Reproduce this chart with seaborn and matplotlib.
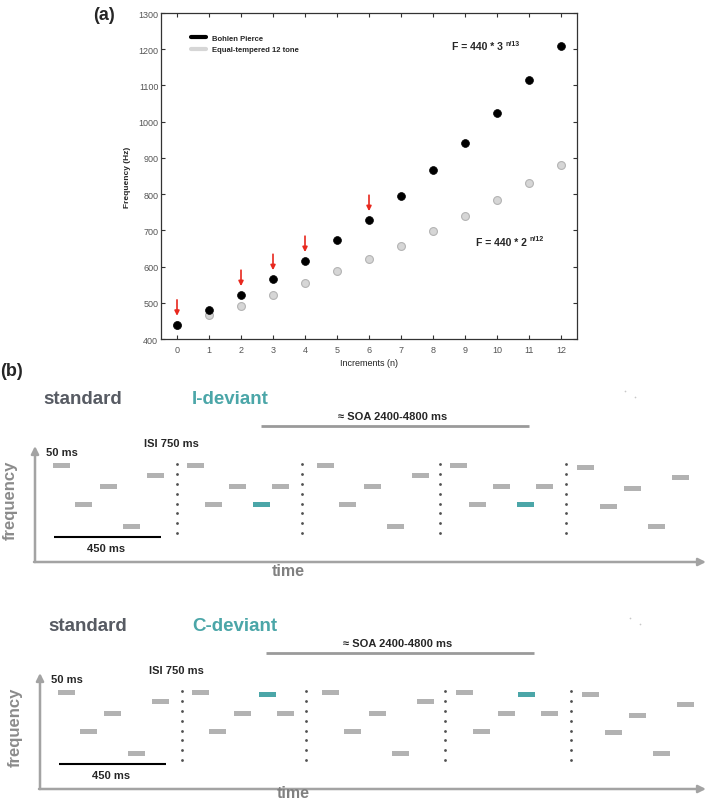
import matplotlib
matplotlib.use("Agg")
import matplotlib.pyplot as plt
from matplotlib.lines import Line2D
import pandas as pd
import seaborn as sns

# --- panel (a): frequencies ---
INCREMENTS = list(range(13))
BP_HZ = [440, 481, 522, 566, 616, 672, 729, 795, 866, 942, 1024, 1114, 1209]
ET_HZ = [440, 466, 492, 522, 554, 588, 622, 658, 698, 739, 784, 830, 879]
ARROW_N = [0, 2, 3, 4, 6]

# --- panel (b): schematic tone sequences ---
# x = position along the time axis, pitch = height above the time axis
I_TONE_X = [61, 83, 108, 131, 155,
            195, 213, 237, 261, 280,
            325, 347, 372, 395, 420,
            458, 477, 501, 525, 544,
            585, 608, 632, 656, 680]
I_TONE_PITCH = [97, 58, 76, 36, 87,
                97, 58, 76, 58, 76,
                97, 58, 76, 36, 87,
                97, 58, 76, 58, 76,
                95, 56, 74, 36, 85]
I_DEVIANTS = [8, 18]
I_SEPARATORS = [177, 302, 440, 566]

C_TONE_X = [66, 88, 112, 136, 160,
            200, 217, 242, 267, 285,
            330, 352, 377, 400, 425,
            464, 481, 506, 526, 549,
            590, 613, 637, 661, 685]
C_TONE_PITCH = [97, 58, 76, 36, 88,
                97, 58, 76, 95, 76,
                97, 58, 76, 36, 88,
                97, 58, 76, 95, 76,
                95, 57, 74, 36, 85]
C_DEVIANTS = [8, 18]
C_SEPARATORS = [182, 306, 445, 571]

SEP_DOTS = [98, 88, 78, 68, 58, 49, 39, 29]

TEAL = "#4ba6a8"
TONE_GREY = "#b2b2b2"
AXIS_GREY = "#a3a3a3"

sns.set_style("ticks")
plt.rcParams["font.family"] = ["Liberation Sans", "DejaVu Sans"]

fig = plt.figure(figsize=(7.09, 8.03), dpi=100)


def draw_freq_panel():
    ax = fig.add_axes([161 / 709, 1 - 340 / 803, 416 / 709, 326 / 803])
    df = pd.DataFrame({"n": INCREMENTS, "bp": BP_HZ, "et": ET_HZ})
    sns.scatterplot(data=df, x="n", y="et", s=32, color="#d6d6d6",
                    edgecolor="#b4b4b4", linewidth=0.8, ax=ax, zorder=3)
    sns.scatterplot(data=df, x="n", y="bp", s=32, color="black",
                    edgecolor="black", linewidth=0.5, ax=ax, zorder=4)

    for n in ARROW_N:
        ax.annotate("", xy=(n, BP_HZ[n] + 24), xytext=(n, BP_HZ[n] + 68),
                    arrowprops=dict(arrowstyle="-|>", color="#e8281e", lw=1.2,
                                    mutation_scale=7, shrinkA=0, shrinkB=0))

    ax.set_xlim(-0.5, 12.5)
    ax.set_ylim(400, 1300)
    ax.set_xticks(INCREMENTS)
    ax.set_yticks(range(400, 1301, 100))
    ax.tick_params(direction="in", top=True, right=True, length=3, width=0.8,
                   labelsize=6.5, labelcolor="#555555", color="#333333")
    ax.tick_params(axis="y", pad=2)
    ax.tick_params(axis="x", pad=4)
    for sp in ax.spines.values():
        sp.set_color("#333333")
        sp.set_linewidth(0.9)
    ax.set_xlabel("Increments (n)", fontsize=6.5, labelpad=3, color="#222222")
    ax.set_ylabel("Frequency (Hz)", fontsize=6, fontweight="bold", labelpad=5)

    handles = [Line2D([0], [0], color="black", lw=3),
               Line2D([0], [0], color="#d6d6d6", lw=3)]
    ax.legend(handles, ["Bohlen Pierce", "Equal-tempered 12 tone"],
              loc="upper left", bbox_to_anchor=(0.055, 0.955), frameon=False,
              handlelength=2.0, handletextpad=0.8, labelspacing=0.55,
              prop={"size": 5.5, "weight": "bold"})

    t1 = ax.text(8.6, 1208, "F = 440 * 3", fontsize=7.5, fontweight="bold",
                 va="center", ha="left")
    ax.annotate("n/13", xy=(1, 0.8), xycoords=t1, xytext=(1.5, 0),
                textcoords="offset points", fontsize=5, fontweight="bold",
                va="center", ha="left")
    t2 = ax.text(9.35, 669, "F = 440 * 2", fontsize=7.5, fontweight="bold",
                 va="center", ha="left")
    ax.annotate("n/12", xy=(1, 0.8), xycoords=t2, xytext=(1.5, 0),
                textcoords="offset points", fontsize=5, fontweight="bold",
                va="center", ha="left")


def draw_sequence(top_px, bottom_px, base_px, tone_x, tone_pitch, deviants,
                  separators, dev_label, dx, time_y):
    ax = fig.add_axes([0, 1 - bottom_px / 803, 1, (bottom_px - top_px) / 803])
    ax.set_xlim(0, 709)
    ax.set_ylim(base_px - bottom_px, base_px - top_px)
    ax.axis("off")

    colors = [TEAL if i in deviants else TONE_GREY for i in range(len(tone_x))]
    ax.bar(tone_x, 5, width=17, bottom=[p - 2.5 for p in tone_pitch],
           color=colors, linewidth=0)

    for sx in separators:
        ax.scatter([sx] * len(SEP_DOTS), SEP_DOTS, s=4, color="#505050",
                   linewidths=0)

    # axes arrows
    ax.annotate("", xy=(35 + dx, 116), xytext=(35 + dx, 0),
                arrowprops=dict(arrowstyle="-|>", color=AXIS_GREY, lw=1.8,
                                mutation_scale=11, shrinkA=0, shrinkB=0))
    ax.annotate("", xy=(706, 0), xytext=(34 + dx, 0),
                arrowprops=dict(arrowstyle="-|>", color=AXIS_GREY, lw=1.8,
                                mutation_scale=11, shrinkA=0, shrinkB=0))
    ax.text(10 + dx, 63, "frequency", rotation=90, fontsize=12,
            fontweight="bold", color="#8b8b8b", ha="center", va="center")
    ax.text(272 + dx, time_y, "time", fontsize=11.5, fontweight="bold",
            color="#808080", ha="left", va="center")

    ax.text(43 + dx, 163, "standard", fontsize=13.5, fontweight="bold",
            color="#575b63", ha="left", va="center")
    ax.text(192, 163, dev_label, fontsize=13.5, fontweight="bold",
            color=TEAL, ha="left", va="center")
    ax.scatter([625 + dx, 635 + dx], [171, 165], s=1.5, color="#c8c8c8",
               linewidths=0)

    ax.text(338 + dx, 146, "\u2248 SOA 2400-4800 ms", fontsize=8,
            fontweight="bold", ha="left", va="center")
    ax.plot([261 + dx, 529 + dx], [136, 136], color="#9a9a9a", lw=2,
            solid_capstyle="butt")
    ax.text(144 + dx, 119, "ISI 750 ms", fontsize=8, fontweight="bold",
            ha="left", va="center")
    ax.text(46 + dx, 110, "50 ms", fontsize=8, fontweight="bold",
            ha="left", va="center")
    ax.plot([54 + dx, 161 + dx], [25, 25], color="black", lw=1.5,
            solid_capstyle="butt")
    ax.text(87 + dx, 14, "450 ms", fontsize=8, fontweight="bold",
            ha="left", va="center")


draw_freq_panel()
draw_sequence(380, 590, 563, I_TONE_X, I_TONE_PITCH, I_DEVIANTS,
              I_SEPARATORS, "I-deviant", 0, -8)
draw_sequence(600, 803, 790, C_TONE_X, C_TONE_PITCH, C_DEVIANTS,
              C_SEPARATORS, "C-deviant", 5, -4)

fig.text(93 / 709, 1 - 15 / 803, "(a)", fontsize=13, fontweight="bold",
         ha="left", va="center")
fig.text(0, 1 - 372 / 803, "(b)", fontsize=13, fontweight="bold",
         ha="left", va="center")

fig.savefig("out.png", dpi=100)
